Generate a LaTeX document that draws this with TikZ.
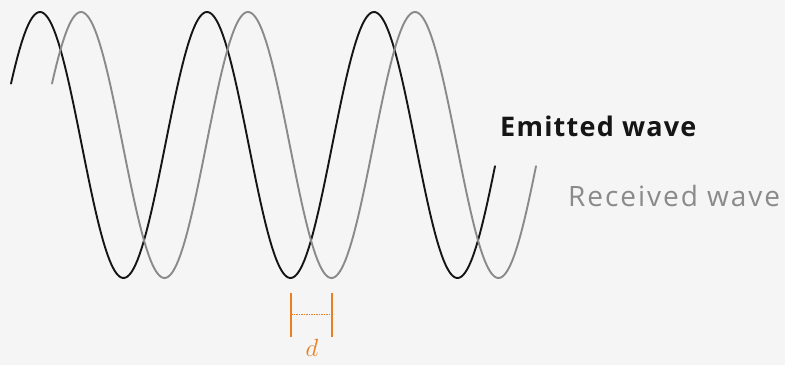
\documentclass[tikz,border=0pt]{standalone}
\usepackage{fontspec}
\setsansfont{Open Sans}
\definecolor{bgc}{HTML}{F5F5F5}
\definecolor{emitc}{HTML}{151515}
\definecolor{recvc}{HTML}{8A8A8A}
\definecolor{orng}{HTML}{EB7D22}
\tikzset{
  wave/.style={line width=1.9pt, line cap=round, line join=round},
  label/.style={anchor=base west, inner sep=0pt},
  tick/.style={orng, line width=1.3pt},
}
\begin{document}
\begin{tikzpicture}[x=1pt,y=-1pt]
\fill[bgc] (0,0) rectangle (785,365);
\useasboundingbox (0,0) rectangle (785,365);
% emitted wave
\draw[wave, emitc] plot[domain=11:495, samples=300, smooth] (\x, {145-133*cos(2.15569*(\x-40))});
% received wave
\draw[wave, recvc] plot[domain=52:536, samples=300, smooth] (\x, {145-133*cos(2.15569*(\x-81))});
% labels
\node[label, text=emitc, font=\sffamily\bfseries\fontsize{27}{27}\selectfont\addfontfeature{LetterSpace=4.5}] (emit) at (500,136) {Emitted wave};
\node[label, text=recvc, font=\sffamily\fontsize{28}{28}\selectfont\addfontfeature{LetterSpace=7}] (recv) at (568,206) {Received wave};
% d marker
\coordinate (la) at (291,293);
\coordinate (lb) at (291,337);
\coordinate (ra) at (332,293);
\coordinate (rb) at (332,337);
\coordinate (ml) at (291,314);
\coordinate (mr) at (332,314);
\draw[tick] (la) -- (lb);
\draw[tick] (ra) -- (rb);
\draw[orng, line width=0.8pt, dash pattern=on 1.5pt off 1pt] (ml) -- (mr);
\node[text=orng, font=\fontsize{34}{34}\selectfont, inner sep=0pt] (dlab) at (312,348) {$d$};
\end{tikzpicture}
\end{document}
